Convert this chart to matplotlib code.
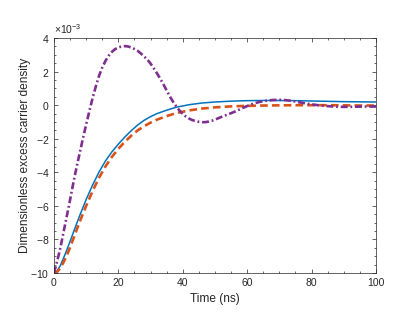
import matplotlib

matplotlib.use("Agg")
import matplotlib.pyplot as plt
import numpy as np
from matplotlib.ticker import MultipleLocator, ScalarFormatter

plt.rcParams["font.family"] = ["Liberation Sans", "DejaVu Sans"]
plt.rcParams["mathtext.fontset"] = "custom"
plt.rcParams["mathtext.rm"] = "Liberation Sans"
plt.rcParams["axes.unicode_minus"] = False
plt.rcParams["lines.scale_dashes"] = False

# 값은 10^-3 단위로 읽음
t_blue = [0, 1, 2, 3, 4, 5, 6, 7, 8, 9, 10, 12, 14, 16, 18, 20, 22, 24, 26, 28, 30,
          32, 35, 38, 42, 46, 50, 55, 60, 65, 70, 75, 80, 85, 90, 95, 100]
n_blue = [-10, -9.88, -9.55, -9.1, -8.62, -8.12, -7.6, -7.08, -6.58, -6.1, -5.62,
          -4.76, -3.98, -3.32, -2.78, -2.32, -1.9, -1.52, -1.18, -0.9, -0.68,
          -0.5, -0.3, -0.12, 0.03, 0.13, 0.19, 0.24, 0.27, 0.28, 0.28, 0.27,
          0.25, 0.23, 0.21, 0.2, 0.19]

t_orange = t_blue
n_orange = [-10, -9.93, -9.7, -9.35, -8.95, -8.48, -7.97, -7.45, -6.95, -6.47, -6.0,
            -5.12, -4.32, -3.65, -3.08, -2.6, -2.18, -1.82, -1.5, -1.25, -1.04,
            -0.86, -0.65, -0.47, -0.31, -0.2, -0.13, -0.07, -0.04, -0.02, -0.01,
            0.0, 0.0, 0.0, -0.01, -0.02, -0.02]

t_purple = [0, 1, 2, 3, 4, 5, 6, 7, 8, 9, 10, 11, 12, 13, 14, 15, 16, 17, 18, 19,
            20, 21, 22, 23, 24, 25, 26, 27, 28, 29, 30, 31, 32, 33, 34, 35, 36, 37,
            38, 39, 40, 41, 42, 43, 44, 45, 46, 47, 48, 49, 50, 52, 54, 56, 58, 60,
            62, 64, 66, 68, 70, 72, 74, 76, 78, 80, 82, 84, 86, 88, 90, 92, 94, 96,
            98, 100]
n_purple = [-10, -9.3, -8.5, -7.55, -6.6, -5.65, -4.65, -3.72, -2.85, -1.98, -1.15,
            -0.35, 0.42, 1.12, 1.75, 2.25, 2.64, 2.95, 3.18, 3.34, 3.44, 3.5, 3.52,
            3.5, 3.44, 3.35, 3.24, 3.08, 2.9, 2.72, 2.48, 2.2, 1.9, 1.58, 1.24,
            0.88, 0.52, 0.2, -0.08, -0.32, -0.52, -0.68, -0.8, -0.89, -0.95, -0.99,
            -1.01, -1.01, -0.98, -0.93, -0.86, -0.7, -0.55, -0.4, -0.22, -0.05,
            0.1, 0.2, 0.27, 0.31, 0.32, 0.3, 0.25, 0.18, 0.11, 0.05, 0.0, -0.04,
            -0.07, -0.09, -0.1, -0.1, -0.09, -0.08, -0.08, -0.08]

AX_COLOR = "#262626"

fig = plt.figure(figsize=(4.15, 3.12), dpi=100)
ax = fig.add_axes([0.130, 0.125, 0.776, 0.753])

ax.plot(t_blue, np.array(n_blue) * 1e-3, color="#0072BD", linewidth=1.1)
ax.plot(t_orange, np.array(n_orange) * 1e-3, color="#D95319", linewidth=1.9,
        linestyle=(0, (5.5, 3)))
ax.plot(t_purple, np.array(n_purple) * 1e-3, color="#7E2F8E", linewidth=1.9,
        linestyle=(0, (5, 2, 1.3, 2)))

ax.set_xlim(0, 100)
ax.set_ylim(-10e-3, 4e-3)
ax.xaxis.set_major_locator(MultipleLocator(20))
ax.xaxis.set_minor_locator(MultipleLocator(5))
ax.yaxis.set_major_locator(MultipleLocator(2e-3))
ax.yaxis.set_minor_locator(MultipleLocator(0.5e-3))

fmt = ScalarFormatter(useMathText=True)
fmt.set_powerlimits((-3, -3))
ax.yaxis.set_major_formatter(fmt)
ax.yaxis.get_offset_text().set_fontsize(7.5)
ax.yaxis.get_offset_text().set_color(AX_COLOR)

ax.tick_params(which="both", direction="in", top=True, right=True,
               colors=AX_COLOR, labelsize=7.5, width=0.5)
ax.tick_params(which="major", length=3, pad=3.5)
ax.tick_params(which="minor", length=1.5)
for spine in ax.spines.values():
    spine.set_color(AX_COLOR)
    spine.set_linewidth(0.5)

ax.set_xlabel("Time (ns)", fontsize=8.6, color=AX_COLOR, labelpad=4)
ax.set_ylabel("Dimensionless excess carrier density", fontsize=8.6,
              color=AX_COLOR, labelpad=-1)

fig.savefig("out.png", dpi=100)
